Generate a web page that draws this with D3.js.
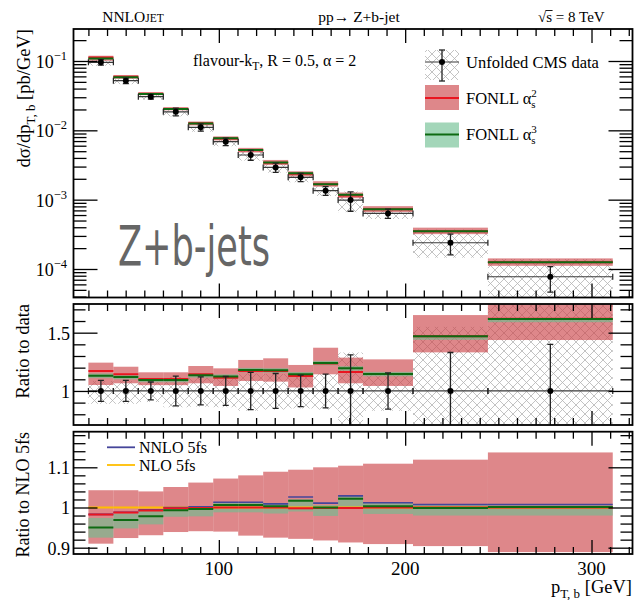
<!DOCTYPE html>
<html>
<head>
<meta charset="utf-8">
<script src="https://cdn.jsdelivr.net/npm/d3@7"></script>
<style>
  body { margin: 0; background: #fff; }
  svg { display: block; }
  text { font-family: "Liberation Serif", "Times New Roman", serif; fill: #000; }
  text.tag { font-family: "DejaVu Sans Condensed", "DejaVu Sans", "Liberation Sans Narrow", sans-serif; font-stretch: condensed; fill: #666; }
</style>
</head>
<body>
<svg id="chart" width="636" height="600"></svg>
<script>
// ---- binning (b-jet pT, GeV) ----
const binEdges = [30, 43.4, 56.8, 70.2, 83.6, 97, 110.4, 123.8, 137.2, 150.6, 164, 177.4, 204.2, 244.4, 311.4];

// ---- unfolded CMS data: dsigma/dpT [pb/GeV], relative stat. error, relative syst. band ----
const dataXsec   = [9.58e-2, 5.20e-2, 3.06e-2, 1.85e-2, 1.104e-2, 6.85e-3, 4.41e-3, 2.92e-3, 2.10e-3, 1.346e-3, 9.86e-4, 6.34e-4, 2.39e-4, 7.73e-5];
const dataErr    = [0.090, 0.090, 0.077, 0.128, 0.120, 0.124, 0.160, 0.150, 0.135, 0.145, 0.310, 0.155, 0.330, 0.400];
const dataSysUp  = [0.085, 0.085, 0.075, 0.120, 0.115, 0.120, 0.150, 0.145, 0.130, 0.150, 0.330, 0.150, 0.550, 0.800];
const dataSysDn  = [0.110, 0.110, 0.095, 0.140, 0.135, 0.140, 0.170, 0.160, 0.150, 0.160, 0.330, 0.170, 0.390, 0.600];

// ---- FONLL predictions, ratio to data ----
const fonll2ToData   = [1.171, 1.143, 1.103, 1.103, 1.143, 1.114, 1.171, 1.171, 1.128, 1.235, 1.163, 1.146, 1.470, 1.620];
const fonll2ToDataLo = [1.051, 1.066, 1.050, 1.050, 1.066, 1.043, 1.086, 1.080, 1.030, 1.143, 1.066, 1.043, 1.331, 1.437];
const fonll2ToDataHi = [1.243, 1.208, 1.160, 1.160, 1.214, 1.194, 1.266, 1.280, 1.223, 1.371, 1.286, 1.271, 1.651, 1.840];
const fonll3ToData   = [1.131, 1.120, 1.094, 1.094, 1.134, 1.123, 1.180, 1.177, 1.143, 1.240, 1.194, 1.146, 1.469, 1.617];
const fonll3ToDataLo = [1.110, 1.100, 1.075, 1.075, 1.115, 1.103, 1.160, 1.157, 1.123, 1.220, 1.174, 1.126, 1.440, 1.590];
const fonll3ToDataHi = [1.150, 1.140, 1.112, 1.112, 1.152, 1.142, 1.198, 1.195, 1.162, 1.258, 1.212, 1.164, 1.478, 1.625];

// ---- predictions, ratio to NLO 5fs ----
const fonll2ToNLO   = [0.9826, 0.9875, 0.9925, 0.998, 0.999, 1.000, 1.000, 1.000, 0.998, 0.999, 0.999, 1.000, 1.000, 1.000];
const fonll2ToNLOLo = [0.910, 0.924, 0.931, 0.939, 0.941, 0.940, 0.930, 0.925, 0.922, 0.918, 0.913, 0.909, 0.904, 0.889];
const fonll2ToNLOHi = [1.043, 1.043, 1.040, 1.051, 1.062, 1.072, 1.080, 1.089, 1.094, 1.100, 1.104, 1.109, 1.119, 1.137];
const fonll3ToNLO   = [0.950, 0.969, 0.978, 0.993, 0.996, 1.006, 1.006, 1.003, 1.017, 1.000, 1.022, 1.003, 0.999, 1.001];
const fonll3ToNLOLo = [0.925, 0.948, 0.958, 0.977, 0.978, 0.988, 0.988, 0.985, 0.990, 0.979, 1.000, 0.984, 0.980, 0.980];
const fonll3ToNLOHi = [0.974, 0.985, 0.993, 0.998, 0.999, 1.012, 1.013, 1.010, 1.020, 1.006, 1.030, 1.012, 1.008, 1.005];
const nnlo5fsToNLO  = [0.983, 0.988, 0.994, 1.000, 1.002, 1.013, 1.013, 1.009, 1.026, 1.011, 1.029, 1.012, 1.0075, 1.0075];
const nlo5fsToNLO   = [1, 1, 1, 1, 1, 1, 1, 1, 1, 1, 1, 1, 1, 1];

// ---- axis ticks ----
const xMajorTicks = [100, 200, 300];
const xMinorTicks = d3.range(30, 321, 10).filter(v => v % 100 !== 0);
const topMajorTicks = [1e-1, 1e-2, 1e-3, 1e-4];
const topTickLabels = ["−1", "−2", "−3", "−4"];
const midMajorTicks = [1, 1.5];
const midTickLabels = ["1", "1.5"];
const botMajorTicks = [0.9, 1, 1.1];
const botTickLabels = ["0.9", "1", "1.1"];

// ---- colours ----
const redBand = "rgba(205,70,75,0.65)";
const greenBand = "rgba(109,190,144,0.63)";
const redLine = "#ea1520";
const greenLine = "#0e6a12";
const blueLine = "#45459a";
const yellowLine = "#ffbe00";

const svg = d3.select("#chart");
const X0 = 73.5, X1 = 632.5;
const x = d3.scaleLinear().domain([22, 322]).range([X0, X1]);

const P = {
  top: { y0: 29, y1: 297.5 },
  mid: { y0: 304, y1: 425 },
  bot: { y0: 431.7, y1: 554 }
};
const yTop = d3.scaleLog().domain([3.88e-5, 0.2894]).range([P.top.y1, P.top.y0]);
const yMid = d3.scaleLinear().domain([0.708, 1.746]).range([P.mid.y1, P.mid.y0]);
const yBot = d3.scaleLinear().domain([0.8843, 1.1886]).range([P.bot.y1, P.bot.y0]);

const bins = binEdges.slice(0, -1).map((lo, i) => ({ i, lo, hi: binEdges[i + 1], c: (lo + binEdges[i + 1]) / 2 }));

// hatch pattern for the data uncertainty
const defs = svg.append("defs");
const pat = defs.append("pattern").attr("id", "hatch").attr("patternUnits", "userSpaceOnUse")
  .attr("width", 9).attr("height", 9);
pat.append("path").attr("d", "M0,0L9,9M9,0L0,9M-1,8L1,10M8,-1L10,1M-1,1L1,-1M8,10L10,8")
  .attr("stroke", "#b4b4b4").attr("stroke-width", 0.8).attr("fill", "none");

Object.entries(P).forEach(([k, p]) => {
  defs.append("clipPath").attr("id", "clip-" + k).append("rect")
    .attr("x", X0).attr("y", p.y0).attr("width", X1 - X0).attr("height", p.y1 - p.y0);
});

function band(g, y, lo, hi, fill) {
  g.append("g").selectAll("rect").data(bins).join("rect")
    .attr("x", d => x(d.lo)).attr("width", d => x(d.hi) - x(d.lo))
    .attr("y", d => y(hi[d.i])).attr("height", d => Math.max(0, y(lo[d.i]) - y(hi[d.i])))
    .attr("fill", fill);
}
function steps(g, y, vals, color, w) {
  g.append("g").selectAll("line").data(bins).join("line")
    .attr("x1", d => x(d.lo)).attr("x2", d => x(d.hi))
    .attr("y1", d => y(vals[d.i])).attr("y2", d => y(vals[d.i]))
    .attr("stroke", color).attr("stroke-width", w);
}
function dataMarks(g, y, central, up, dn) {
  const m = g.append("g");
  bins.forEach(d => {
    const yc = y(central[d.i]);
    m.append("line").attr("x1", x(d.lo)).attr("x2", x(d.hi)).attr("y1", yc).attr("y2", yc)
      .attr("stroke", "#3a3a3a").attr("stroke-width", 1.2);
    [d.lo, d.hi].forEach(e => m.append("line").attr("x1", x(e)).attr("x2", x(e))
      .attr("y1", yc - 3).attr("y2", yc + 3).attr("stroke", "#222").attr("stroke-width", 1.2));
    const yu = y(up[d.i]), yd = y(dn[d.i]);
    m.append("line").attr("x1", x(d.c)).attr("x2", x(d.c)).attr("y1", yu).attr("y2", yd)
      .attr("stroke", "#222").attr("stroke-width", 1.3);
    [yu, yd].forEach(v => m.append("line").attr("x1", x(d.c) - 3).attr("x2", x(d.c) + 3)
      .attr("y1", v).attr("y2", v).attr("stroke", "#222").attr("stroke-width", 1.3));
    m.append("circle").attr("cx", x(d.c)).attr("cy", yc).attr("r", 3).attr("fill", "#000");
  });
}

function ticks(p, y, yMajor, yMinor, majLen, minLen) {
  const g = svg.append("g").attr("class", "ticks");
  const style = s => s.call(a => a.select(".domain").remove())
    .call(a => a.selectAll("line").attr("stroke", "#000").attr("stroke-width", 1.3));
  g.append("g").attr("transform", `translate(${X0},0)`)
    .call(d3.axisLeft(y).tickValues(yMajor).tickSize(-majLen).tickFormat("")).call(style);
  g.append("g").attr("transform", `translate(${X0},0)`)
    .call(d3.axisLeft(y).tickValues(yMinor).tickSize(-minLen).tickFormat("")).call(style);
  g.append("g").attr("transform", `translate(${X1},0)`)
    .call(d3.axisRight(y).tickValues(yMajor).tickSize(-majLen).tickFormat("")).call(style);
  g.append("g").attr("transform", `translate(${X1},0)`)
    .call(d3.axisRight(y).tickValues(yMinor).tickSize(-minLen).tickFormat("")).call(style);
  g.append("g").attr("transform", `translate(0,${p.y1})`)
    .call(d3.axisBottom(x).tickValues(xMajorTicks).tickSize(-14).tickFormat("")).call(style);
  g.append("g").attr("transform", `translate(0,${p.y1})`)
    .call(d3.axisBottom(x).tickValues(xMinorTicks).tickSize(-7).tickFormat("")).call(style);
  g.append("g").attr("transform", `translate(0,${p.y0})`)
    .call(d3.axisTop(x).tickValues(xMajorTicks).tickSize(-14).tickFormat("")).call(style);
  g.append("g").attr("transform", `translate(0,${p.y0})`)
    .call(d3.axisTop(x).tickValues(xMinorTicks).tickSize(-7).tickFormat("")).call(style);
  svg.append("rect").attr("x", X0).attr("y", p.y0).attr("width", X1 - X0).attr("height", p.y1 - p.y0)
    .attr("fill", "none").attr("stroke", "#000").attr("stroke-width", 1.8);
}

// ================= top panel: differential cross section =================
const gTop = svg.append("g").attr("clip-path", "url(#clip-top)");
const scale = (arr) => arr.map((r, i) => r * dataXsec[i]);
band(gTop, yTop, dataXsec.map((v, i) => v * (1 - dataSysDn[i])), dataXsec.map((v, i) => v * (1 + dataSysUp[i])), "url(#hatch)");
band(gTop, yTop, scale(fonll2ToDataLo), scale(fonll2ToDataHi), redBand);
band(gTop, yTop, scale(fonll3ToDataLo), scale(fonll3ToDataHi), greenBand);
steps(gTop, yTop, scale(fonll2ToData), redLine, 2);
steps(gTop, yTop, scale(fonll3ToData), greenLine, 2);
dataMarks(gTop, yTop, dataXsec, dataXsec.map((v, i) => v * (1 + dataErr[i])), dataXsec.map((v, i) => Math.max(1e-6, v * (1 - dataErr[i]))));

const topMinor = [];
for (let e = -5; e <= -1; e++) for (let k = 2; k <= 9; k++) {
  const v = k * Math.pow(10, e);
  if (v > 3.88e-5 && v < 0.2894) topMinor.push(v);
}
ticks(P.top, yTop, topMajorTicks, topMinor, 24, 13);

// ================= middle panel: ratio to data =================
const gMid = svg.append("g").attr("clip-path", "url(#clip-mid)");
const ones = bins.map(() => 1);
band(gMid, yMid, dataSysDn.map(v => 1 - v), dataSysUp.map(v => 1 + v), "url(#hatch)");
band(gMid, yMid, fonll2ToDataLo, fonll2ToDataHi, redBand);
band(gMid, yMid, fonll3ToDataLo, fonll3ToDataHi, greenBand);
steps(gMid, yMid, fonll2ToData, redLine, 2);
steps(gMid, yMid, fonll3ToData, greenLine, 2);
dataMarks(gMid, yMid, ones, dataErr.map(v => 1 + v), dataErr.map(v => 1 - v));
ticks(P.mid, yMid, midMajorTicks, d3.range(0.8, 1.75, 0.1).filter(v => Math.abs(v - 1) > 1e-6 && Math.abs(v - 1.5) > 1e-6), 24, 12);

// ================= bottom panel: ratio to NLO 5fs =================
const gBot = svg.append("g").attr("clip-path", "url(#clip-bot)");
band(gBot, yBot, fonll2ToNLOLo, fonll2ToNLOHi, redBand);
band(gBot, yBot, fonll3ToNLOLo, fonll3ToNLOHi, greenBand);
steps(gBot, yBot, nlo5fsToNLO, yellowLine, 2);
steps(gBot, yBot, nnlo5fsToNLO, blueLine, 1.6);
steps(gBot, yBot, fonll2ToNLO, redLine, 2);
steps(gBot, yBot, fonll3ToNLO, greenLine, 2);
const botMinor = d3.range(0.9, 1.19, 0.02).filter(v => botMajorTicks.every(m => Math.abs(v - m) > 1e-6));
ticks(P.bot, yBot, botMajorTicks, botMinor, 24, 12);

// ================= tick labels =================
const lab = svg.append("g").attr("font-size", 18);
topMajorTicks.forEach((v, i) => {
  const t = lab.append("text").attr("x", 67).attr("y", yTop(v) + 7).attr("text-anchor", "end");
  t.append("tspan").text("10");
  t.append("tspan").attr("dy", -8).attr("font-size", 12.5).text(topTickLabels[i]);
});
midMajorTicks.forEach((v, i) => lab.append("text").attr("x", 70).attr("y", yMid(v) + 7)
  .attr("text-anchor", "end").text(midTickLabels[i]));
botMajorTicks.forEach((v, i) => lab.append("text").attr("x", 70).attr("y", yBot(v) + 7)
  .attr("text-anchor", "end").text(botTickLabels[i]));
xMajorTicks.forEach(v => lab.append("text").attr("x", x(v)).attr("y", 575)
  .attr("text-anchor", "middle").attr("font-size", 19).text(v));

// ================= axis titles =================
const yt = svg.append("text").attr("transform", "translate(30,29) rotate(-90)")
  .attr("text-anchor", "end").attr("font-size", 18.5);
yt.append("tspan").text("dσ/dp");
yt.append("tspan").attr("dy", 5).attr("font-size", 13).text("T, b");
yt.append("tspan").attr("dy", -5).text(" [pb/GeV]");
svg.append("text").attr("transform", "translate(29,304) rotate(-90)")
  .attr("text-anchor", "end").attr("font-size", 18.5).text("Ratio to data");
svg.append("text").attr("transform", "translate(29,432) rotate(-90)")
  .attr("text-anchor", "end").attr("font-size", 18).text("Ratio to NLO 5fs");
const xt = svg.append("text").attr("x", 632).attr("y", 593).attr("text-anchor", "end").attr("font-size", 18.5);
xt.append("tspan").text("p");
xt.append("tspan").attr("dy", 5).attr("font-size", 13).text("T, b");
xt.append("tspan").attr("dy", -5).text(" [GeV]");

// ================= header =================
const h1 = svg.append("text").attr("x", 133).attr("y", 22).attr("text-anchor", "middle").attr("font-size", 15.5);
h1.append("tspan").text("NNLO");
h1.append("tspan").attr("font-size", 11.5).text("JET");
svg.append("text").attr("x", 359).attr("y", 22).attr("text-anchor", "middle").attr("font-size", 15.5).text("pp→ Z+b-jet");
const h3 = svg.append("text").attr("x", 538).attr("y", 22).attr("font-size", 15);
h3.append("tspan").text("√");
h3.append("tspan").text("s");
h3.append("tspan").text(" = 8 TeV");
{
  const node = h3.node();
  const s0 = node.getStartPositionOfChar(1).x, s1 = node.getEndPositionOfChar(1).x;
  svg.append("line").attr("x1", s0 - 0.5).attr("x2", s1 + 0.5).attr("y1", 10.5).attr("y2", 10.5)
    .attr("stroke", "#000").attr("stroke-width", 0.9);
}

// process label
const fl = svg.append("text").attr("x", 193).attr("y", 66).attr("font-size", 16);
fl.append("tspan").text("flavour-k");
fl.append("tspan").attr("dy", 4).attr("font-size", 11.5).text("T");
fl.append("tspan").attr("dy", -4).text(", R = 0.5, α = 2");

// big process tag
svg.append("text").attr("class", "tag").attr("x", 118).attr("y", 265)
  .attr("font-size", 55).attr("textLength", 152).attr("lengthAdjust", "spacingAndGlyphs")
  .text("Z+b-jets");

// ================= legend (top panel) =================
const lg = svg.append("g");
lg.append("rect").attr("x", 425).attr("y", 50).attr("width", 34).attr("height", 30).attr("fill", "url(#hatch)");
lg.append("line").attr("x1", 425).attr("x2", 459).attr("y1", 62).attr("y2", 62).attr("stroke", "#3a3a3a").attr("stroke-width", 1.2);
lg.append("line").attr("x1", 442).attr("x2", 442).attr("y1", 50).attr("y2", 81).attr("stroke", "#222").attr("stroke-width", 1.3);
[50, 81].forEach(v => lg.append("line").attr("x1", 439).attr("x2", 445).attr("y1", v).attr("y2", v).attr("stroke", "#222").attr("stroke-width", 1.3));
lg.append("circle").attr("cx", 442).attr("cy", 62).attr("r", 3).attr("fill", "#000");
lg.append("text").attr("x", 466).attr("y", 68).attr("font-size", 16.5).text("Unfolded CMS data");

[[85, 98, redBand, redLine, "2"], [122.5, 134.5, greenBand, greenLine, "3"]].forEach(([by, ly, bf, lc, pw]) => {
  lg.append("rect").attr("x", 425).attr("y", by).attr("width", 34).attr("height", 25).attr("fill", bf);
  lg.append("line").attr("x1", 425).attr("x2", 459).attr("y1", ly).attr("y2", ly).attr("stroke", lc).attr("stroke-width", 2);
  const t = lg.append("text").attr("x", 466).attr("y", ly + 5.5).attr("font-size", 16.5);
  t.append("tspan").text("FONLL α");
  t.append("tspan").attr("dy", 4).attr("font-size", 11).text("s");
  t.append("tspan").attr("dx", -4.3).attr("dy", -11).attr("font-size", 11).text(pw);
});

// ================= legend (bottom panel) =================
[[447.3, blueLine, "NNLO 5fs"], [465, yellowLine, "NLO 5fs"]].forEach(([ly, c, label]) => {
  lg.append("line").attr("x1", 107).attr("x2", 135).attr("y1", ly).attr("y2", ly).attr("stroke", c).attr("stroke-width", 1.8);
  lg.append("text").attr("x", 139).attr("y", ly + 5.5).attr("font-size", 16).text(label);
});
</script>
</body>
</html>
